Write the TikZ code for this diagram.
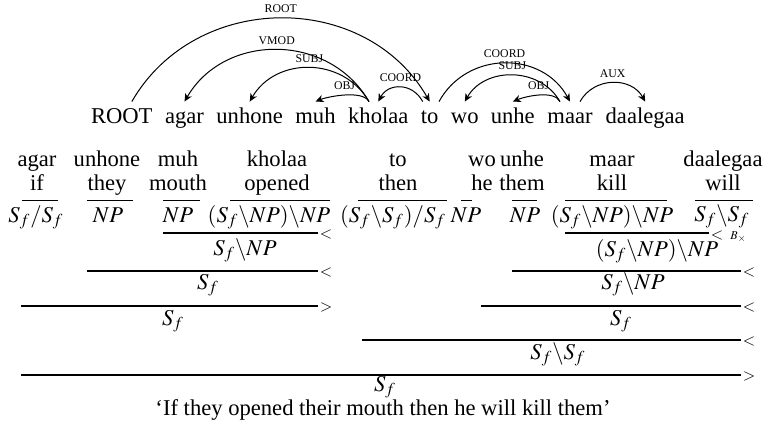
\documentclass[tikz,border=0pt]{standalone}
\usepackage{mathptmx}
\usepackage{fontspec}
\setmainfont{Liberation Serif}
\usetikzlibrary{arrows.meta,calc}

% dependency arc: start, end, first and second control offsets, label
\newcommand\deparc[5]{%
  \draw[deparrow] (#1) .. controls ($(#1)+(#3)$) and ($(#2)+(#4)$) .. (#2)
    node[deplabel,pos=0.5] {#5};}

\begin{document}
\begin{tikzpicture}[x=0.5pt,y=-0.5pt,
  txt/.style={font=\fontsize{11.3}{13.5}\selectfont, inner sep=0pt, anchor=base},
  wd/.style={txt, text height=10.5pt, text depth=3pt},
  deplabel/.style={font=\fontsize{5.9}{7}\selectfont, inner sep=0pt, above=2.5pt},
  deparrow/.style={line width=0.5pt, -{Stealth[length=4pt,width=3.6pt,inset=1.2pt]}},
  lexrule/.style={line width=0.45pt},
  comb/.style={line width=0.7pt},
  mk/.style={inner sep=0pt, anchor=west, font=\fontsize{8}{9}\selectfont}]

\useasboundingbox (0,0) rectangle (765,428);

% ---------------- dependency tree ----------------
\node[wd] (w0) at (121.8,123) {ROOT};
\node[wd] (w1) at (184.5,123) {agar};
\node[wd] (w2) at (249.7,123) {unhone};
\node[wd] (w3) at (315.5,123) {muh};
\node[wd] (w4) at (378.3,123) {kholaa};
\node[wd] (w5) at (429.7,123) {to};
\node[wd] (w6) at (464.8,123) {wo};
\node[wd] (w7) at (512.8,123) {unhe};
\node[wd] (w8) at (570,123) {maar};
\node[wd] (w9) at (645.2,123) {daalegaa};

\coordinate (s0)  at ($(w0.north)+(10,0)$);
\coordinate (s4)  at ($(w4.north)+(-9.3,0)$);
\coordinate (s5a) at ($(w5.north)+(-7,0)$);
\coordinate (s5b) at ($(w5.north)+(9.3,0)$);
\coordinate (s8a) at ($(w8.north)+(-10,0)$);
\coordinate (s8b) at ($(w8.north)+(10,0)$);

\deparc{s0}{w5.north}{64,-111}{-64,-111}{ROOT}
\deparc{s4}{w1.north}{-40,-69}{40,-69}{VMOD}
\deparc{s4}{w2.north}{-26,-45}{26,-45}{SUBJ}
\deparc{s4}{w3.north}{-6,-12}{12,-5}{OBJ}
\deparc{s5a}{w4.north}{-10,-19}{10,-19}{COORD}
\deparc{s5b}{w8.north}{28,-51}{-28,-51}{COORD}
\deparc{s8a}{w6.north}{-20,-35}{20,-35}{SUBJ}
\deparc{s8a}{w7.north}{-6,-12}{12,-5}{OBJ}
\deparc{s8b}{w9.north}{14,-25}{-14,-25}{AUX}

% ---------------- CCG derivation ----------------
% lexical items: Hindi word, gloss, rule, category
\node[txt] (a1) at (37,166) {agar};     \node[txt] (g1) at (37,190) {if};
\node[txt] (a2) at (107,166) {unhone};  \node[txt] (g2) at (107,190) {they};
\node[txt] (a3) at (178,166) {muh};     \node[txt] (g3) at (178,190) {mouth};
\node[txt] (a4) at (277,166) {kholaa};  \node[txt] (g4) at (277,190) {opened};
\node[txt] (a5) at (398,166) {to};      \node[txt] (g5) at (398,190) {then};
\node[txt] (a6) at (482,166) {wo};      \node[txt] (g6) at (482,190) {he};
\node[txt] (a7) at (522,166) {unhe};    \node[txt] (g7) at (522,190) {them};
\node[txt] (a8) at (612,166) {maar};    \node[txt] (g8) at (612,190) {kill};
\node[txt] (a9) at (723,166) {daalegaa};\node[txt] (g9) at (723,190) {will};

\draw[lexrule] (22,200) -- (58,200);
\draw[lexrule] (87,200) -- (133,200);
\draw[lexrule] (163,200) -- (200,200);
\draw[lexrule] (230,200) -- (330,200);
\draw[lexrule] (358,200) -- (447,200);
\draw[lexrule] (461,200) -- (472,200);
\draw[lexrule] (512,200) -- (537,200);
\draw[lexrule] (565,200) -- (667,200);
\draw[lexrule] (695,200) -- (753,200);

\node[txt] (c1) at (36,222)  {$S_f/S_f$};
\node[txt] (c2) at (108,222) {$NP$};
\node[txt] (c3) at (178,222) {$NP$};
\node[txt] (c4) at (269,222) {$(S_f\backslash NP)\backslash NP$};
\node[txt] (c5) at (393,222) {$(S_f\backslash S_f)/S_f$};
\node[txt] (c6) at (466,222) {$NP$};
\node[txt] (c7) at (525,222) {$NP$};
\node[txt] (c8) at (612,222) {$(S_f\backslash NP)\backslash NP$};
\node[txt] (c9) at (722,221) {$S_f\backslash S_f$};

% combination steps: rule, marker, result
\coordinate (r1a) at (163,233); \coordinate (r1b) at (318,233);
\draw[comb] (r1a) -- (r1b);
\node[mk] (m1) at ($(r1b)+(1.5,1.5)$) {$<$};
\node[txt] (x1) at (245,255) {$S_f\backslash NP$};

\coordinate (r2a) at (565,233); \coordinate (r2b) at (709,233);
\draw[comb] (r2a) -- (r2b);
\node[mk] (m2) at ($(r2b)+(1.5,3.5)$) {$<\;{\scriptstyle B_{\times}}$};
\node[txt] (x2) at (657,256) {$(S_f\backslash NP)\backslash NP$};

\coordinate (r3a) at (87,271); \coordinate (r3b) at (318,271);
\draw[comb] (r3a) -- (r3b);
\node[mk] (m3) at ($(r3b)+(1.5,1.5)$) {$<$};
\node[txt] (x3) at (208,289) {$S_f$};

\coordinate (r4a) at (512,271); \coordinate (r4b) at (741,271);
\draw[comb] (r4a) -- (r4b);
\node[mk] (m4) at ($(r4b)+(1.5,1.5)$) {$<$};
\node[txt] (x4) at (633,289) {$S_f\backslash NP$};

\coordinate (r5a) at (21,306); \coordinate (r5b) at (318,306);
\draw[comb] (r5a) -- (r5b);
\node[mk] (m5) at ($(r5b)+(1.5,1.5)$) {$>$};
\node[txt] (x5) at (173,325) {$S_f$};

\coordinate (r6a) at (481,306); \coordinate (r6b) at (741,306);
\draw[comb] (r6a) -- (r6b);
\node[mk] (m6) at ($(r6b)+(1.5,1.5)$) {$<$};
\node[txt] (x6) at (621,325) {$S_f$};

\coordinate (r7a) at (362,340); \coordinate (r7b) at (741,340);
\draw[comb] (r7a) -- (r7b);
\node[mk] (m7) at ($(r7b)+(1.5,1.5)$) {$<$};
\node[txt] (x7) at (558,359) {$S_f\backslash S_f$};

\coordinate (r8a) at (21,375); \coordinate (r8b) at (741,375);
\draw[comb] (r8a) -- (r8b);
\node[mk] (m8) at ($(r8b)+(1.5,1.5)$) {$>$};
\node[txt] (x8) at (385,391) {$S_f$};

\node[txt] (cap) at (383,415) {‘If they opened their mouth then he will kill them’};
\end{tikzpicture}
\end{document}
